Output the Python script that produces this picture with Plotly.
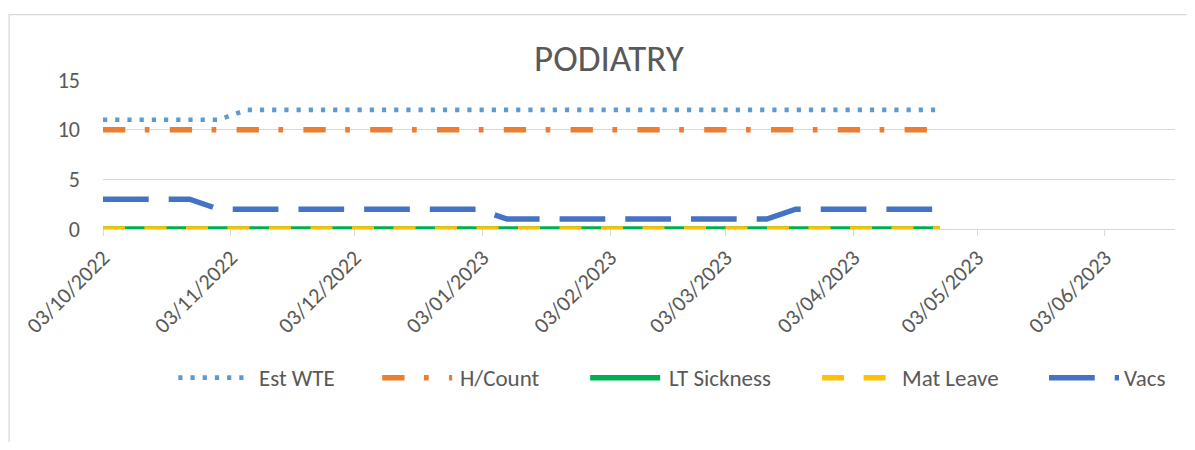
import plotly.graph_objects as go

# weekly snapshot dates
dates = ['2022-10-03', '2022-10-10', '2022-10-17', '2022-10-24', '2022-10-31',
         '2022-11-07', '2022-11-14', '2022-11-21', '2022-11-28', '2022-12-05',
         '2022-12-12', '2022-12-19', '2022-12-26', '2023-01-02', '2023-01-09',
         '2023-01-16', '2023-01-23', '2023-01-30', '2023-02-06', '2023-02-13',
         '2023-02-20', '2023-02-27', '2023-03-06', '2023-03-13', '2023-03-20',
         '2023-03-27', '2023-04-03', '2023-04-10', '2023-04-17', '2023-04-24']

est_wte = [11, 11, 11, 11, 11] + [12] * 25
h_count = [10] * 30
lt_sickness = [0] * 30
mat_leave = [0] * 30
vacs = [3, 3, 3, 3] + [2] * 10 + [1] * 10 + [2] * 6

tick_dates = ['2022-10-03', '2022-11-03', '2022-12-03', '2023-01-03', '2023-02-03',
              '2023-03-03', '2023-04-03', '2023-05-03', '2023-06-03']
tick_labels = ['03/10/2022', '03/11/2022', '03/12/2022', '03/01/2023', '03/02/2023',
               '03/03/2023', '03/04/2023', '03/05/2023', '03/06/2023']

series_names = ['Est WTE', 'H/Count', 'LT Sickness', 'Mat Leave', 'Vacs']
series_values = [est_wte, h_count, lt_sickness, mat_leave, vacs]

# styling (Excel-ish)
colors = ['#5B9BD5', '#ED7D31', '#00B050', '#FFC000', '#4472C4']
dashes = ['4.2px,8px', '22.3px,19.5px,4.7px,20.3px', 'solid', '22px,19.5px', '45.7px,20px']
widths = [4.7, 5.5, 5.5, 5.5, 5.5]

FONT = 'Calibri, Carlito, Lato, sans-serif'
GREY = '#595959'
GRID = '#D9D9D9'

# the page body has an 8px margin, so work in page pixels and shift
OFF = 8
PAGE_W, PAGE_H = 1195, 450
W, H = PAGE_W - 2 * OFF, PAGE_H - 2 * OFF
PLOT_X0, PLOT_X1, PLOT_Y0, PLOT_Y1 = 102.7, 1175, 79.7, 229.5   # page px
L, R, T, B = PLOT_X0 - OFF, W - (PLOT_X1 - OFF), PLOT_Y0 - OFF, H - (PLOT_Y1 - OFF)


def px_x(x):
    return (x - OFF - L) / (W - L - R)


def px_y(y):
    return (H - B - (y - OFF)) / (H - T - B)


fig = go.Figure()
for name, vals, col, dash, w in zip(series_names, series_values, colors, dashes, widths):
    fig.add_trace(go.Scatter(x=dates, y=vals, name=name, mode='lines',
                             line=dict(color=col, dash=dash, width=w),
                             showlegend=False))

# hand-made legend so the samples are as long as Excel's
legend_sample_x = [178, 382, 590, 822, 1049]
legend_text_x = [257, 458, 667, 900, 1122]
legend_y = 379
for name, col, dash, w, sx, tx in zip(series_names, colors, dashes, widths,
                                      legend_sample_x, legend_text_x):
    fig.add_shape(type='line', xref='paper', yref='paper',
                  x0=px_x(sx), x1=px_x(sx + 70), y0=px_y(legend_y), y1=px_y(legend_y),
                  line=dict(color=col, dash=dash, width=w))
    fig.add_annotation(text=name, xref='paper', yref='paper', x=px_x(tx), y=px_y(legend_y),
                       xanchor='left', yanchor='middle', showarrow=False,
                       font=dict(family=FONT, size=23, color=GREY))

# chart area border (left edge sits right at the page margin)
fig.add_shape(type='rect', xref='paper', yref='paper', layer='below',
              x0=px_x(8.8), x1=px_x(1230), y0=px_y(14), y1=px_y(480),
              line=dict(color=GRID, width=1.3))

fig.update_layout(
    width=W, height=H,
    margin=dict(l=L, r=R, t=T, b=B),
    paper_bgcolor='white', plot_bgcolor='white',
    title=dict(text='PODIATRY', xref='container', yref='container',
               x=(609 - OFF) / W, y=(H - (58 - OFF)) / H, xanchor='center', yanchor='middle',
               font=dict(family=FONT, size=37, color=GREY)),
    xaxis=dict(type='date', range=['2022-10-03', '2023-06-20'],
               tickvals=tick_dates, ticktext=tick_labels, tickangle=-45,
               ticks='outside', ticklen=6, tickcolor=GRID, tickwidth=1.3,
               showline=True, linecolor=GRID, linewidth=1.3, showgrid=False,
               zeroline=False, tickfont=dict(family=FONT, size=22, color=GREY)),
    yaxis=dict(range=[0, 15], dtick=5, showgrid=True, gridcolor=GRID, gridwidth=1.3,
               zeroline=False, showline=False, ticks='', ticklabelstandoff=22,
               tickfont=dict(family=FONT, size=22, color=GREY)),
    showlegend=False,
)

fig.write_html('out.html', config={'displayModeBar': False})
